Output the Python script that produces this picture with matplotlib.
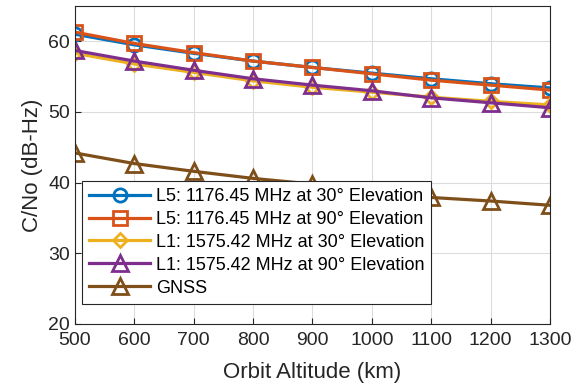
import numpy as np
import matplotlib.pyplot as plt

plt.rcParams['font.family'] = ['Liberation Sans', 'DejaVu Sans']

altitude = [500, 600, 700, 800, 900, 1000, 1100, 1200, 1300]
l5_30 = [61.0, 59.5, 58.3, 57.2, 56.3, 55.5, 54.7, 54.0, 53.4]
l5_90 = [61.3, 59.7, 58.4, 57.2, 56.3, 55.4, 54.5, 53.8, 53.1]
l1_30 = [58.3, 56.8, 55.6, 54.4, 53.5, 52.8, 52.1, 51.5, 51.0]
l1_90 = [58.7, 57.2, 55.9, 54.7, 53.8, 53.0, 52.0, 51.3, 50.6]
gnss = [44.2, 42.7, 41.6, 40.6, 39.8, 38.6, 37.9, 37.4, 36.8]

labels = ['L5: 1176.45 MHz at 30° Elevation',
          'L5: 1176.45 MHz at 90° Elevation',
          'L1: 1575.42 MHz at 30° Elevation',
          'L1: 1575.42 MHz at 90° Elevation',
          'GNSS']
series = [l5_30, l5_90, l1_30, l1_90, gnss]
colors = ['#0072BD', '#D95319', '#EDB120', '#7E2F8E', '#7F4F1A']
markers = ['o', 's', 'D', '^', '^']
msizes = [9.5, 9.5, 7.5, 11, 11]

fig = plt.figure(figsize=(5.84, 3.88), dpi=100)
ax = fig.add_axes([0.1284, 0.165, 0.8134, 0.8196])

for y, lab, c, m, ms in zip(series, labels, colors, markers, msizes):
    ax.plot(altitude, y, color=c, marker=m, markersize=ms, markerfacecolor='none',
            markeredgewidth=2, linewidth=2.3, label=lab)

ax.set_xlim(500, 1300)
ax.set_ylim(20, 65)
ax.set_xticks(altitude)
ax.set_yticks([20, 30, 40, 50, 60])
ax.grid(True, color='#dcdcdc', linewidth=0.8)
ax.tick_params(direction='in', labelsize=14, colors='#262626', length=4)
ax.tick_params(axis='x', pad=6)
for s in ax.spines.values():
    s.set_color('#262626')
    s.set_linewidth(0.8)
ax.set_xlabel('Orbit Altitude (km)', fontsize=16, color='#262626', labelpad=9)
ax.set_ylabel('C/No (dB-Hz)', fontsize=16, color='#262626')

leg = ax.legend(loc='lower left', bbox_to_anchor=(0.014, 0.063), fontsize=13,
                fancybox=False, edgecolor='#262626', framealpha=1,
                handlelength=3.4, borderpad=0.4, labelspacing=0.33,
                handletextpad=0.3, borderaxespad=0)
leg.get_frame().set_linewidth(0.8)

fig.savefig('out.png', dpi=100)
